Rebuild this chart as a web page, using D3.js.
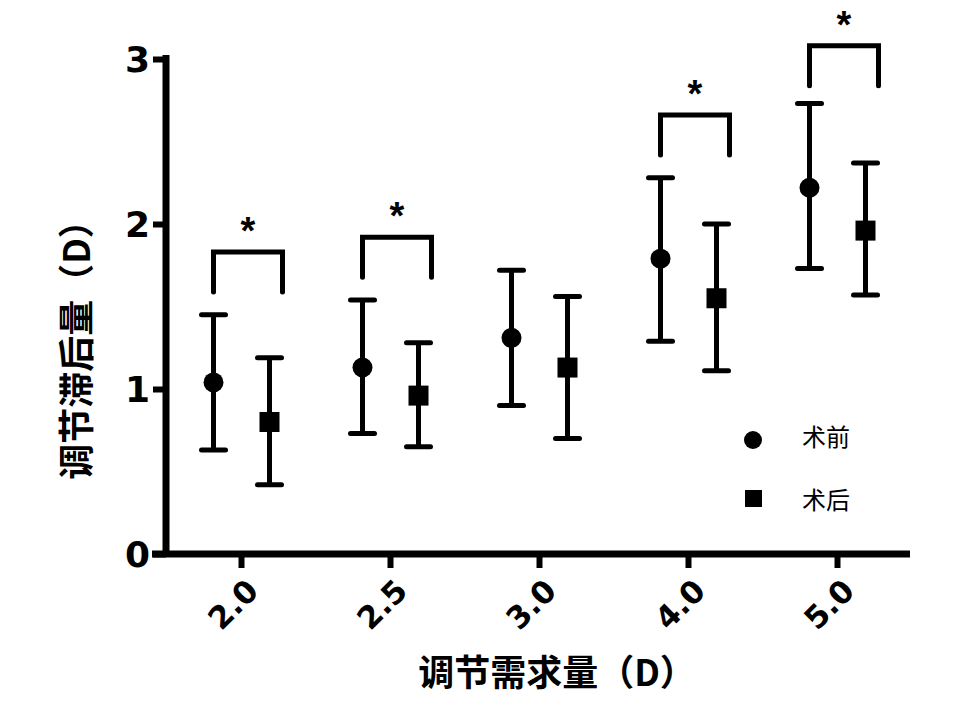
<!DOCTYPE html>
<html><head><meta charset="utf-8">
<script src="https://cdn.jsdelivr.net/npm/d3@7/dist/d3.min.js"></script>
<style>body{margin:0;background:#fff}</style>
</head><body>
<svg id="c" width="979" height="708"></svg>
<script>
const categories = ["2.0","2.5","3.0","4.0","5.0"];
const preMean  = [1.04, 1.13, 1.31, 1.79, 2.22];
const preLow   = [0.63, 0.73, 0.90, 1.29, 1.73];
const preHigh  = [1.45, 1.54, 1.72, 2.28, 2.73];
const postMean = [0.80, 0.96, 1.13, 1.55, 1.96];
const postLow  = [0.42, 0.65, 0.70, 1.11, 1.57];
const postHigh = [1.19, 1.28, 1.56, 2.00, 2.37];
const bracketTop = [1.83, 1.92, null, 2.66, 3.08];
const sigMark = ["*","*","","*","*"];
const yTicks = [0,1,2,3];
const seriesNames = ["术前","术后"];
const xTitle = "调节需求量（D）";
const yTitle = "调节滞后量（D）";

const svg = d3.select("#c");
const x = d3.scaleBand().domain(categories).range([167, 912]);
const y = d3.scaleLinear().domain([0,3]).range([554, 59]);
const cx = c => x(c) + x.bandwidth()/2;
const off = 28;
const numFont = "'DejaVu Sans', sans-serif";
const cjkFont = "'Noto Sans CJK SC', sans-serif";

// axes
const yAxis = d3.axisLeft(y).tickValues(yTicks).tickFormat(d3.format("d")).tickSize(13).tickSizeOuter(0).tickPadding(3);
const gy = svg.append("g").attr("transform","translate(166,0)").call(yAxis);
gy.select(".domain").remove();
gy.selectAll(".tick line").attr("stroke","#000").attr("stroke-width",6);
gy.selectAll(".tick text").attr("font-family",numFont).attr("font-weight","bold").attr("font-size",36).attr("fill","#000").attr("dy","0.36em");

const xAxis = d3.axisBottom(x).tickSize(14).tickSizeOuter(0).tickPadding(6);
const gx = svg.append("g").attr("transform","translate(0,554)").call(xAxis);
gx.select(".domain").remove();
gx.selectAll(".tick line").attr("stroke","#000").attr("stroke-width",6);
gx.selectAll(".tick text").attr("font-family",numFont).attr("font-weight","bold").attr("font-size",31).attr("fill","#000")
  .attr("text-anchor","end").attr("dy","0.35em").attr("transform","translate(11,31) rotate(-45)").attr("y",0).attr("x",0);

svg.append("line").attr("x1",166).attr("x2",166).attr("y1",y(3)-4).attr("y2",557).attr("stroke","#000").attr("stroke-width",7);
svg.append("line").attr("x1",152).attr("x2",910).attr("y1",554).attr("y2",554).attr("stroke","#000").attr("stroke-width",7);

// error bars
function errbar(xp, lo, hi){
  const g = svg.append("g").attr("stroke","#000").attr("stroke-width",5);
  g.append("line").attr("x1",xp).attr("x2",xp).attr("y1",y(lo)).attr("y2",y(hi));
  g.append("line").attr("x1",xp-12).attr("x2",xp+12).attr("y1",y(lo)).attr("y2",y(lo)).attr("stroke-linecap","round");
  g.append("line").attr("x1",xp-12).attr("x2",xp+12).attr("y1",y(hi)).attr("y2",y(hi)).attr("stroke-linecap","round");
}
categories.forEach((c,i)=>{
  errbar(cx(c)-off, preLow[i], preHigh[i]);
  errbar(cx(c)+off, postLow[i], postHigh[i]);
  svg.append("circle").attr("cx",cx(c)-off).attr("cy",y(preMean[i])).attr("r",10).attr("fill","#000");
  svg.append("rect").attr("x",cx(c)+off-10).attr("y",y(postMean[i])-10).attr("width",20).attr("height",20).attr("fill","#000");
  if(bracketTop[i]!=null){
    const l = cx(c)-off, r = cx(c)+off+13, t = y(bracketTop[i]), b = t+40;
    svg.append("path").attr("d",`M${l},${b}V${t}H${r}V${b}`).attr("fill","none").attr("stroke","#000").attr("stroke-width",5).attr("stroke-linecap","round");
    svg.append("text").attr("x",(l+r)/2).attr("y",t-8).attr("text-anchor","middle").attr("font-family","'Liberation Sans', sans-serif").attr("font-weight","bold").attr("font-size",38).text(sigMark[i]);
  }
});

// legend
svg.append("circle").attr("cx",753).attr("cy",440).attr("r",9).attr("fill","#000");
svg.append("rect").attr("x",745).attr("y",490).attr("width",17).attr("height",17).attr("fill","#000");
svg.append("text").attr("x",802).attr("y",437).attr("dy","0.36em").attr("font-family",cjkFont).attr("font-size",24).text(seriesNames[0]);
svg.append("text").attr("x",802).attr("y",500).attr("dy","0.36em").attr("font-family",cjkFont).attr("font-size",24).text(seriesNames[1]);

// titles
svg.append("text").attr("x",557).attr("y",673).attr("dy","0.36em").attr("text-anchor","middle").attr("font-family",cjkFont).attr("font-weight","bold").attr("font-size",36).text(xTitle);
svg.append("text").attr("transform","translate(77,341) rotate(-90)").attr("dy","0.36em").attr("text-anchor","middle").attr("font-family",cjkFont).attr("font-weight","bold").attr("font-size",36).text(yTitle);
</script>
</body></html>
